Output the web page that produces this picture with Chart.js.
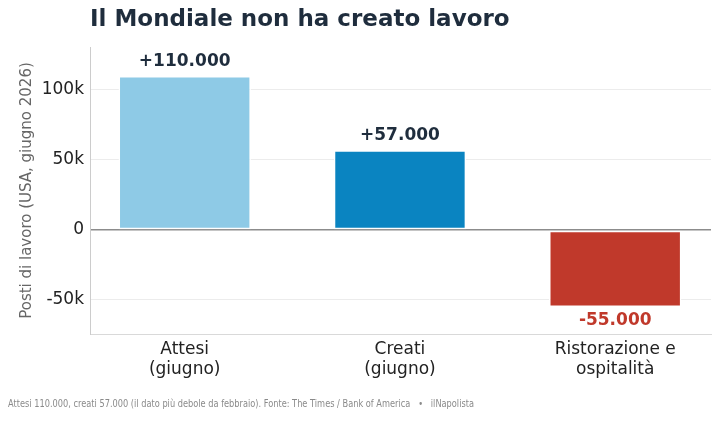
<!DOCTYPE html>
<html lang="it">
  <head>
    <meta charset="UTF-8" />
    <title>Il Mondiale non ha creato lavoro</title>
    <script src="https://cdn.jsdelivr.net/npm/chart.js@4.4.1/dist/chart.umd.min.js"></script>
    <style>
      html, body { margin: 0; padding: 0; background: #fff; }
      #wrap { width: 720px; height: 421px; position: relative; }
    </style>
  </head>
  <body>
    <div id="wrap"><canvas id="jobsChart"></canvas></div>

    <script>
      // data
      const categories = [["Attesi", "(giugno)"], ["Creati", "(giugno)"], ["Ristorazione e", "ospitalità"]];
      const jobValues = [110000, 57000, -55000];
      const valueLabels = ["+110.000", "+57.000", "-55.000"];
      const barColors = ["#8ecae6", "#0a84c1", "#c0392b"];
      const yTicks = [-50000, 0, 50000, 100000];

      const titleText = "Il Mondiale non ha creato lavoro";
      const footerText = "Attesi 110.000, creati 57.000 (il dato più debole da febbraio). Fonte: The Times / Bank of America   •   ilNapolista";

      const FONT = "'DejaVu Sans', sans-serif";

      // title, footer and value labels on top of the bars
      const extras = {
        id: "extras",
        afterDatasetsDraw(chart) {
          const ctx = chart.ctx;
          const area = chart.chartArea;
          ctx.save();

          ctx.fillStyle = "#1f2d3d";
          ctx.font = "bold 23px " + FONT;
          ctx.textAlign = "left";
          ctx.textBaseline = "middle";
          ctx.fillText(titleText, area.left, 20);

          ctx.fillStyle = "#8a8a8a";
          ctx.font = "11px " + FONT;
          ctx.fillText(footerText, 8, 404, 466);

          const meta = chart.getDatasetMeta(0);
          ctx.font = "bold 17px " + FONT;
          ctx.textAlign = "center";
          meta.data.forEach((bar, i) => {
            if (jobValues[i] >= 0) {
              ctx.fillStyle = "#1f2d3d";
              ctx.textBaseline = "bottom";
              ctx.fillText(valueLabels[i], bar.x, bar.y - 6);
            } else {
              ctx.fillStyle = "#c0392b";
              ctx.textBaseline = "top";
              ctx.fillText(valueLabels[i], bar.x, bar.y + 5);
            }
          });
          ctx.restore();
        }
      };

      let ctx = document.getElementById("jobsChart").getContext("2d");

      let myChart = new Chart(ctx, {
        type: "bar",
        data: {
          datasets: [
            {
              data: jobValues.map((v, i) => ({ x: i, y: v })),
              backgroundColor: barColors,
              borderColor: "#ffffff",
              borderWidth: 1.5,
              borderSkipped: false,
              categoryPercentage: 1,
              barPercentage: 0.615,
            },
          ],
        },
        options: {
          responsive: true,
          maintainAspectRatio: false,
          animation: false,
          layout: { padding: { top: 47, right: 9, left: 0, bottom: 0 } },
          plugins: {
            legend: { display: false },
            tooltip: { enabled: false },
          },
          scales: {
            x: {
              type: "linear",
              offset: false,
              min: -0.44,
              max: 2.445,
              afterBuildTicks: (scale) => {
                scale.ticks = categories.map((c, i) => ({ value: i }));
              },
              afterFit: (scale) => { scale.height = 87; },
              grid: { display: false, drawTicks: false },
              border: { display: true, color: "#d9d9d9", width: 1 },
              ticks: {
                color: "#222",
                font: { family: FONT, size: 17, lineHeight: 1.2 },
                padding: 5,
                maxRotation: 0,
                autoSkip: false,
                callback: (v) => categories[v],
              },
            },
            y: {
              min: -74300,
              max: 130700,
              afterBuildTicks: (scale) => {
                scale.ticks = yTicks.map((v) => ({ value: v }));
              },
              afterFit: (scale) => { scale.width = 90; },
              grid: {
                drawTicks: false,
                color: (c) => (c.tick && c.tick.value === 0 ? "#8c8c8c" : "#ececec"),
                lineWidth: (c) => (c.tick && c.tick.value === 0 ? 1.4 : 1),
              },
              border: { display: true, color: "#cccccc", width: 1 },
              ticks: {
                color: "#222",
                font: { family: FONT, size: 17 },
                padding: 6,
                callback: (v) => (v === 0 ? "0" : v / 1000 + "k"),
              },
              title: {
                display: true,
                text: "Posti di lavoro (USA, giugno 2026)",
                color: "#666",
                font: { family: FONT, size: 15 },
                padding: { top: 18, bottom: 0 },
              },
            },
          },
        },
        plugins: [extras],
      });
    </script>
  </body>
</html>
